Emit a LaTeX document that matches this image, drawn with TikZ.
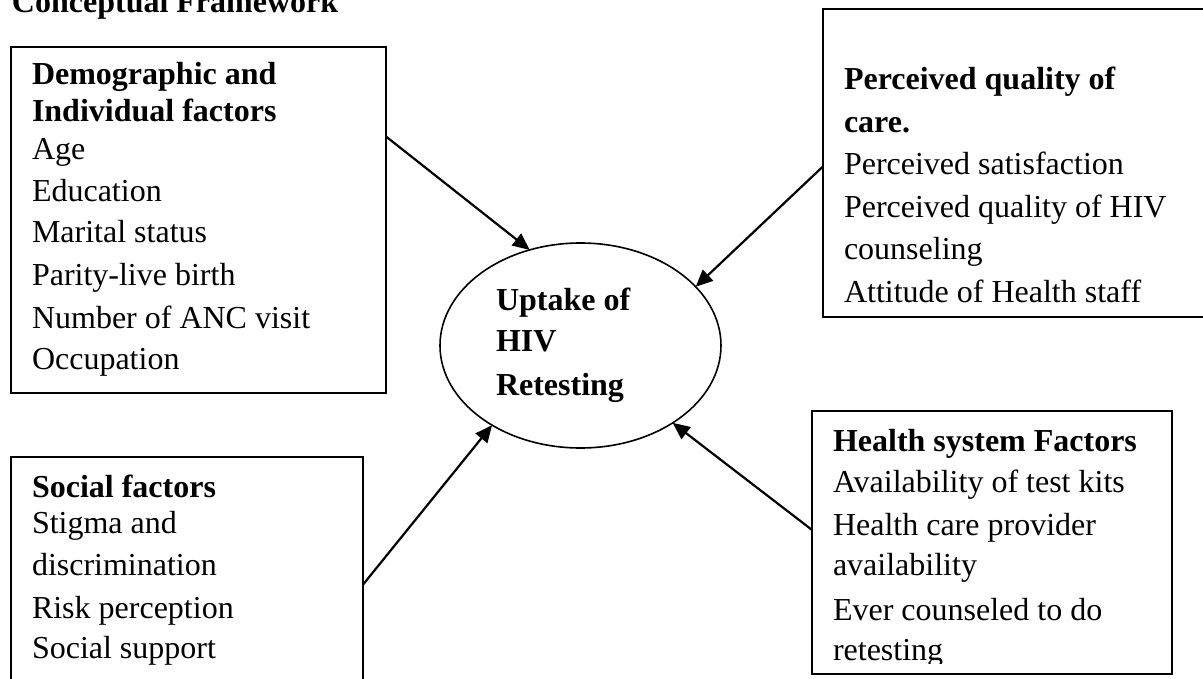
\documentclass[tikz,border=0pt]{standalone}
\usepackage{fontspec}
\setmainfont{Liberation Serif}
\usetikzlibrary{arrows.meta,shapes.geometric}
\begin{document}
\begin{tikzpicture}[x=1pt,y=-1pt,
  every node/.style={inner sep=0pt,outer sep=0pt},
  font=\fontsize{32}{40}\selectfont,
  box/.style={draw,rectangle,line width=1.6pt},
  ln/.style={anchor=base west},
  hd/.style={anchor=base west,font=\fontsize{32}{40}\selectfont\bfseries},
  arr/.style={line width=2.2pt,-{Triangle[length=17pt,width=15pt]}}]
\useasboundingbox (0,0) rectangle (1203,679);
\clip (0,0) rectangle (1203,679);
% title
\node[hd] (title) at (12,13) {Conceptual Framework};
% boxes
\node[box,minimum width=375pt,minimum height=346pt] (demo) at (198.5,220) {};
\node[box,minimum width=392pt,minimum height=308pt] (perc) at (1019,163) {};
\node[box,minimum width=352pt,minimum height=243pt] (soc) at (187,578.5) {};
\node[box,minimum width=360pt,minimum height=263pt] (hsys) at (992,542.5) {};
\node[draw,ellipse,line width=1.6pt,minimum width=281pt,minimum height=205pt] (ell) at (580.5,345.5) {};
% demographic text
\node[hd] (dh1) at (32,85) {Demographic and};
\node[hd] (dh2) at (32,122) {Individual factors};
\foreach \yy/\tt [count=\i] in {160/Age,202/Education,243/Marital status,286/Parity-live birth,328/Number of ANC visit,370/Occupation}
  \node[ln] (dl\i) at (32,\yy) {\tt};
% perceived text
\node[hd] (ph1) at (844,90) {Perceived quality of};
\node[hd] (ph2) at (844,133) {care.};
\foreach \yy/\tt [count=\i] in {175/Perceived satisfaction,218/Perceived quality of HIV,260/counseling,302/Attitude of Health staff}
  \node[ln] (pl\i) at (844,\yy) {\tt};
% social text
\node[hd] (sh1) at (32,497) {Social factors};
\foreach \yy/\tt [count=\i] in {533/Stigma and,575/discrimination,618/Risk perception,658/Social support}
  \node[ln] (sl\i) at (32,\yy) {\tt};
% health system text
\begin{scope}
\clip (812,411) rectangle (1172,663);
\node[hd] (hh1) at (833,451) {Health system Factors};
\foreach \yy/\tt [count=\i] in {492/Availability of test kits,535/Health care provider,575/availability,620/Ever counseled to do,660/retesting}
  \node[ln] (hl\i) at (833,\yy) {\tt};
\end{scope}
% ellipse text
\node[hd] (e1) at (496,310) {Uptake of};
\node[hd] (e2) at (496,352) {HIV};
\node[hd] (e3) at (496,395) {Retesting};
% connectors
\draw[arr] (demo.24.4) -- (ell.118.3);
\draw[arr] (perc.181.2) -- (ell.27.1);
\draw[arr] (soc.-2.8) -- (ell.222.1);
\draw[arr] (hsys.176.7) -- (ell.320.9);
\end{tikzpicture}
\end{document}
